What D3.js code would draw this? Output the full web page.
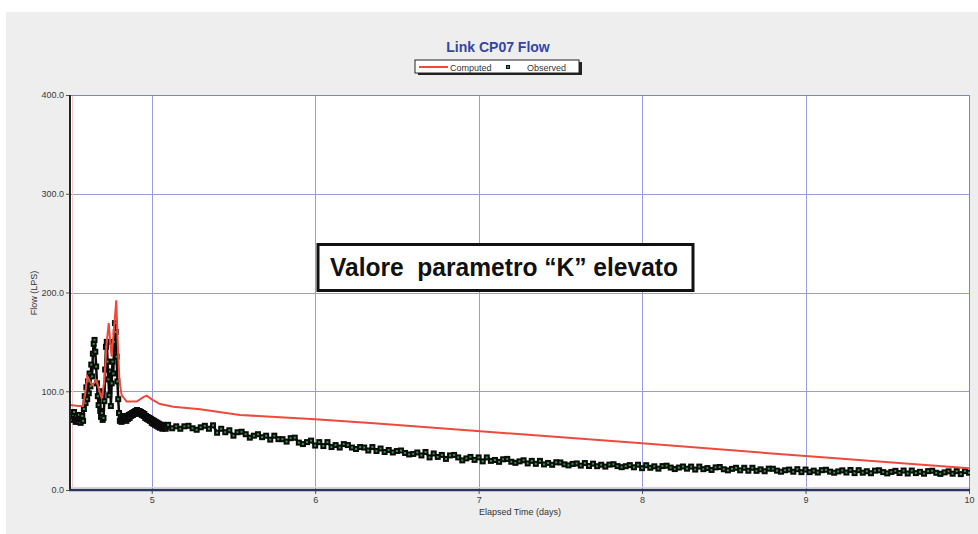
<!DOCTYPE html>
<html><head><meta charset="utf-8">
<script src="https://cdn.jsdelivr.net/npm/d3@7"></script>
<style>
html,body{margin:0;padding:0;background:#fff;}
svg{display:block;font-family:"Liberation Sans",Arial,sans-serif;}
</style></head>
<body>
<svg id="c" width="978" height="534"></svg>
<script>
// ---- data ----
const chartTitle = "Link CP07 Flow";
const xLabel = "Elapsed Time (days)";
const yLabel = "Flow (LPS)";
const annotation = "Valore  parametro \u201CK\u201D elevato";
const seriesNames = ["Computed", "Observed"];
const xTicks = [5, 6, 7, 8, 9, 10];
const yTicks = [0, 100, 200, 300, 400];

// Computed (red line)
const computedTimes = [4.50,4.55,4.58,4.595,4.606,4.62,4.635,4.663,4.68,4.694,4.71,4.725,4.737,4.746,4.755,4.77,4.783,4.792,4.802,4.816,4.847,4.908,4.949,4.969,5.0,5.051,5.132,5.296,5.54,6.0,6.36,6.97,8.0,9.0,10.0];
const computedValues = [86,85,85,100,115,111,106,111,100,93,110,150,169,150,135,165,192,150,111,96,89.5,89.5,94,95.6,91.8,87,84.4,81.7,76,71.6,67.5,60,47.3,34.4,22];

// Observed (markers) - segment A: from 4.500 every 0.005 day
const obsStartA = 4.5, obsStepA = 0.005;
const observedA = [
76,72,78,71,75,79,72,69,75,71,69,76,72,68,72,75,70,
82,95,88,104,92,110,98,118,105,127,115,138,148,152,140,125,108,95,86,100,80,74,78,71,73,
90,122,145,150,130,112,96,120,85,108,130,118,150,169,160,135,110,92,78,
70,74,69,73,71,75,72,74,70,74,72,76,73,77,75,78,76,79,77,80,78,81,80,78,80,77,79,76,78,75,77,73,75,72,74,71,73,70,
72,68,71,67,70,66,69,65,68,64,67,63,66,64,62,66,63,65,62,64];
// segment B: from 5.100 every 0.025 day
const obsStartB = 5.1, obsStepB = 0.025;
const observedB = [
66,62.5,64.5,62, 64.5,65,62.5,61, 63.5,65,62,65.5, 58,62,58.5,60.5, 55,58.5,59,56.5, 53,55,56.5,53.5, 55,51,55,51.5,
51.5,49,52.5,53, 48,46.5,48.5,50, 45,48.5,44.5,48.5, 43.5,45.5,43,46.5, 45.5,43,41.5,43.5, 43,40,43.5,39.5,
42,38.5,40.5,38, 39.5,40,37.5,36, 36.5,38,35,38.5, 33,37,33.5,35.5, 31.5,35,35.5,33, 30,32,33.5,30.5, 33,29,33,29.5,
30.4,28.5,31.1,31.5, 28.6,27.5,29,30.1, 26.9,29.5,26.5,29.5, 25.9,27.4,25.5,28.1, 27.9,26,24.9,26.4,
26.9,24.7,27.3,24.3, 26.7,24.1,25.6,23.7, 25.7,26.1,24.2,23.1, 24.1,25.2,23,25.6, 22.1,25.1,22.5,24,
21.6,24.2,24.6,22.7, 21.2,22.7,23.8,21.6, 23.7,20.7,23.7,21.1, 22.2,20.3,22.9,23.3, 21,19.9,21.4,22.5,
19.9,22.5,19.5,22.5, 19.4,20.9,19,21.6, 21.5,19.6,18.5,20, 20.7,18.5,21.1,18.1, 20.7,18.1,19.6,17.7,
20.1,20.5,18.6,17.5, 18.8,19.9,17.7,20.3, 17.1,20.1,17.5,19, 17,19.6,20,18.1, 16.8,18.3,19.4,17.2,
19.7,16.7,19.7,17.1, 18.4,16.5,19.1,19.5, 17.4,16.3,17.8,18.9, 16.5,19.1,16.1,19.1, 17.5];

// ---- build ----
const computed = computedTimes.map((t,i)=>({t, v:computedValues[i]}));
const observed = observedA.map((v,i)=>({t:obsStartA+i*obsStepA, v}))
  .concat(observedB.map((v,i)=>({t:obsStartB+i*obsStepB, v})));

const svg = d3.select("#c");
const L=70, R=969, T=95, B=490;
const x = d3.scaleLinear().domain([4.5,10]).range([L,R]);
const y = d3.scaleLinear().domain([0,400]).range([B,T]);

// backgrounds
svg.append("rect").attr("x",6).attr("y",12).attr("width",972).attr("height",522).attr("fill","#eeeeee");
svg.append("rect").attr("x",L).attr("y",T).attr("width",R-L).attr("height",B-T).attr("fill","#ffffff");

// grid
const grid = svg.append("g").attr("stroke","#9a9ae0").attr("stroke-width",1);
grid.selectAll(".gx").data(xTicks).enter().append("line")
  .attr("x1",d=>Math.round(x(d))+0.5).attr("x2",d=>Math.round(x(d))+0.5).attr("y1",T).attr("y2",B);
grid.selectAll(".gy").data(yTicks.filter(d=>d>0)).enter().append("line")
  .attr("x1",L).attr("x2",R).attr("y1",d=>Math.round(y(d))+0.5).attr("y2",d=>Math.round(y(d))+0.5);
// faint pink inner lines
svg.append("line").attr("x1",L+2.5).attr("x2",L+2.5).attr("y1",T+1).attr("y2",B-2).attr("stroke","#f2caca");
svg.append("line").attr("x1",L).attr("x2",R).attr("y1",B-2.5).attr("y2",B-2.5).attr("stroke","#f2caca");
svg.append("line").attr("x1",L).attr("x2",R+0.5).attr("y1",T+0.5).attr("y2",T+0.5).attr("stroke","#7f7fd8");
svg.append("line").attr("x1",R+0.5).attr("x2",R+0.5).attr("y1",T).attr("y2",B).attr("stroke","#7f7fd8");

// axes
const yAxis = d3.axisLeft(y).tickValues(yTicks).tickFormat(d3.format(".1f")).tickSize(4).tickPadding(2);
const gy = svg.append("g").attr("transform",`translate(${L},0)`).call(yAxis);
gy.select(".domain").remove();
gy.selectAll(".tick line").attr("stroke","#555");
gy.selectAll(".tick text").attr("font-size",9).attr("fill","#3a3a3a").attr("font-family","Liberation Sans, Arial, sans-serif");

const xAxis = d3.axisBottom(x).tickValues(xTicks).tickFormat(d3.format("d")).tickSize(4).tickPadding(3);
const gx = svg.append("g").attr("transform",`translate(0,${B})`).call(xAxis);
gx.select(".domain").remove();
gx.selectAll(".tick line").attr("stroke","#555");
gx.selectAll(".tick text").attr("font-size",9).attr("fill","#3a3a3a").attr("font-family","Liberation Sans, Arial, sans-serif");

// clip
svg.append("clipPath").attr("id","clip").append("rect").attr("x",L).attr("y",T).attr("width",R-L+1).attr("height",B-T);

// observed: joining trace + markers
const mk = svg.append("g").attr("clip-path","url(#clip)");
mk.append("path").datum(observed).attr("fill","none").attr("stroke","#0a0a0a").attr("stroke-width",2.5)
  .attr("stroke-linejoin","round")
  .attr("d", d3.line().x(d=>x(d.t)).y(d=>y(d.v)));
const pts = mk.selectAll("g.p").data(observed).enter().append("g")
  .attr("transform",d=>`translate(${x(d.t)},${y(d.v)})`);
pts.append("rect").attr("x",-3).attr("y",-3).attr("width",6).attr("height",6).attr("fill","#0a0a0a");
pts.append("rect").attr("x",-1).attr("y",-1).attr("width",2).attr("height",2).attr("fill","#2f9a40");

// computed line
svg.append("path").datum(computed).attr("clip-path","url(#clip)")
  .attr("fill","none").attr("stroke","#ee4a3c").attr("stroke-width",2)
  .attr("d", d3.line().x(d=>x(d.t)).y(d=>y(d.v)));

// axis lines
svg.append("line").attr("x1",L).attr("x2",L).attr("y1",T).attr("y2",B+1).attr("stroke","#222").attr("stroke-width",2);
svg.append("line").attr("x1",L-1).attr("x2",R+1).attr("y1",B).attr("y2",B).attr("stroke","#2e3460").attr("stroke-width",2.5);

// title
svg.append("text").attr("x",498).attr("y",52).attr("text-anchor","middle")
  .attr("font-size",14).attr("font-weight","bold").attr("fill","#3346a8").text(chartTitle);

// legend
const lg = svg.append("g");
lg.append("rect").attr("x",418).attr("y",62).attr("width",164).attr("height",13).attr("fill","#222");
lg.append("rect").attr("x",415).attr("y",60).attr("width",164).attr("height",13).attr("fill","#fff").attr("stroke","#222").attr("stroke-width",1);
lg.append("line").attr("x1",419).attr("x2",448).attr("y1",67).attr("y2",67).attr("stroke","#ee4a3c").attr("stroke-width",2);
lg.append("text").attr("x",450).attr("y",70.5).attr("font-size",9).attr("fill","#333").text(seriesNames[0]);
lg.append("rect").attr("x",506).attr("y",65).attr("width",4).attr("height",4).attr("fill","#111");
lg.append("rect").attr("x",507).attr("y",66).attr("width",2).attr("height",2).attr("fill","#1f9a3a");
lg.append("text").attr("x",527).attr("y",70.5).attr("font-size",9).attr("fill","#333").text(seriesNames[1]);

// axis labels
svg.append("text").attr("x",520).attr("y",515).attr("text-anchor","middle").attr("font-size",9).attr("fill","#333").text(xLabel);
svg.append("text").attr("transform","translate(37,293) rotate(-90)").attr("text-anchor","middle").attr("font-size",9).attr("fill","#333").text(yLabel);

// annotation box
svg.append("rect").attr("x",318).attr("y",244.5).attr("width",375).attr("height",46).attr("fill","#fff").attr("stroke","#111").attr("stroke-width",3);
svg.append("text").attr("x",330).attr("y",276).attr("font-size",25).attr("font-weight","bold").attr("fill","#111")
  .style("white-space","pre").attr("xml:space","preserve")
  .attr("textLength",348).attr("lengthAdjust","spacingAndGlyphs").text(annotation);
</script>
</body></html>
